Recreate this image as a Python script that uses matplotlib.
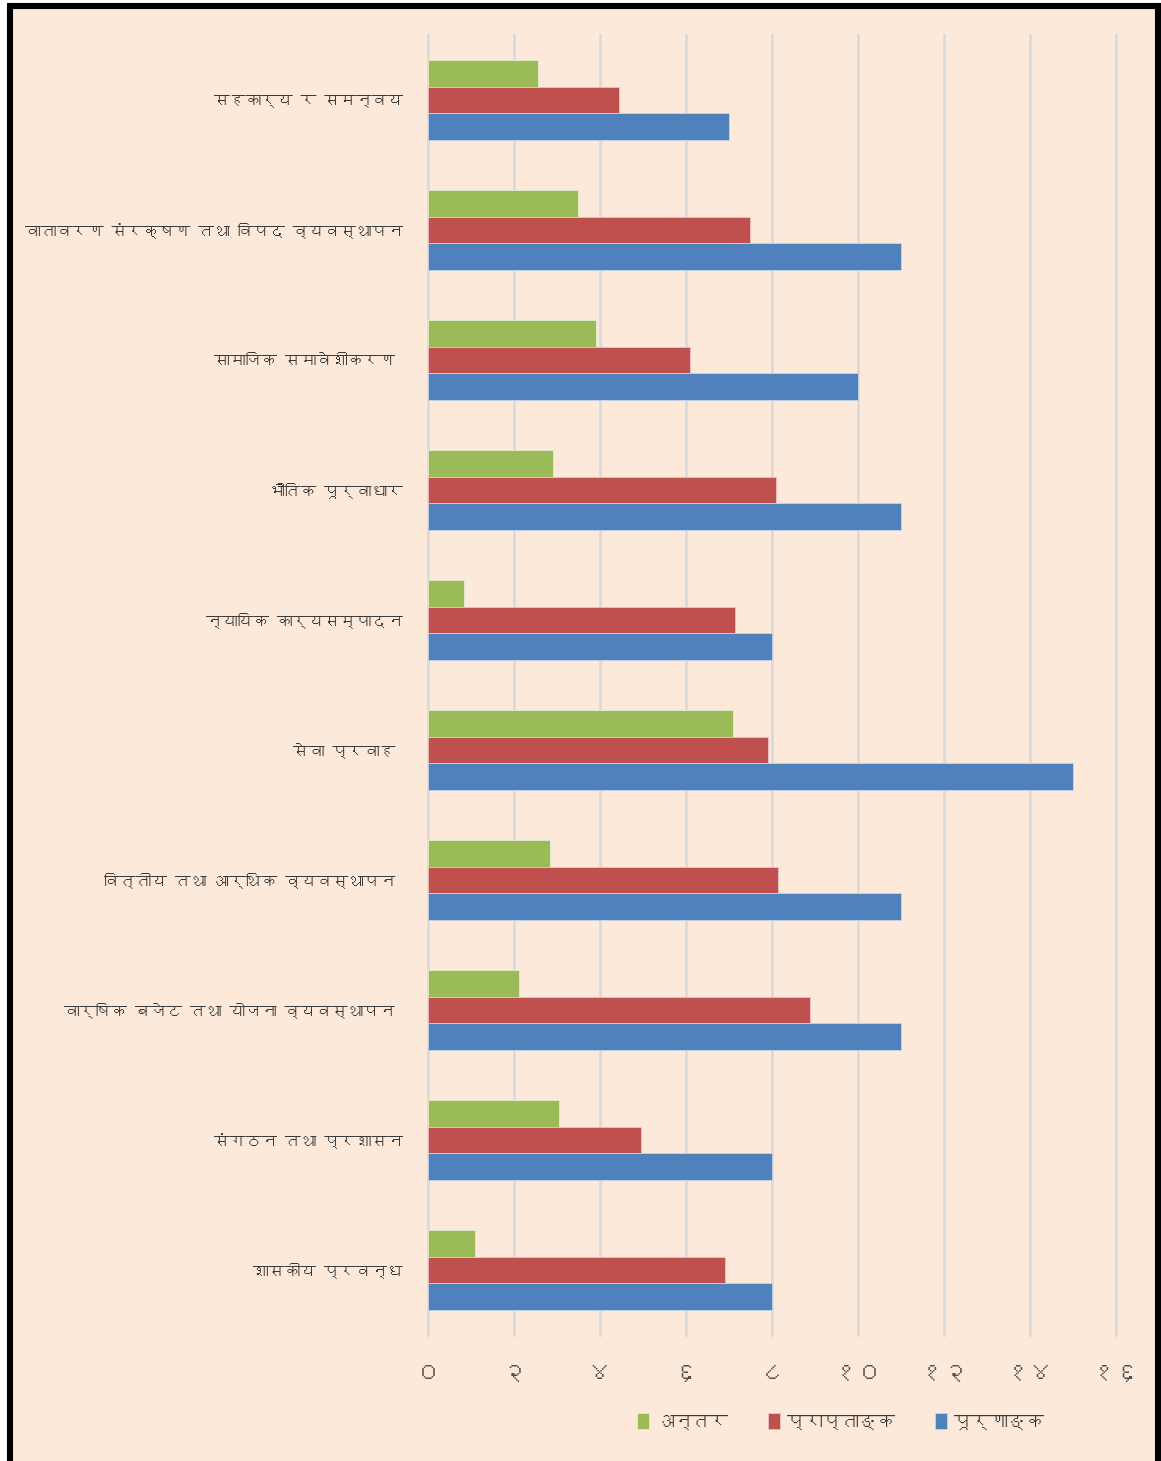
import numpy as np
import matplotlib
matplotlib.use('Agg')
import matplotlib.pyplot as plt
from matplotlib import font_manager
from matplotlib.ft2font import FT2Font
from matplotlib.patches import Rectangle

# data (top to bottom)
categories = ['सहकार्य र समन्वय',
              'वातावरण संरक्षण तथा विपद व्यवस्थापन',
              'सामाजिक समावेशीकरण ',
              'भौतिक पूर्वाधार',
              'न्यायिक कार्यसम्पादन',
              'सेवा प्रवाह ',
              'वित्तीय तथा आर्थिक व्यवस्थापन ',
              'वार्षिक बजेट तथा योजना व्यवस्थापन ',
              'संगठन तथा प्रशासन',
              'शासकीय प्रवन्ध']
full_marks = [7, 11, 10, 11, 8, 15, 11, 11, 8, 8]
obtained = [4.45, 7.5, 6.1, 8.1, 7.15, 7.9, 8.15, 8.88, 4.95, 6.9]
gap = [2.55, 3.5, 3.9, 2.9, 0.85, 7.1, 2.85, 2.12, 3.05, 1.1]
series_names = ['अन्तर', 'प्राप्ताङ्क', 'पूर्णाङ्क']
x_ticks = [0, 2, 4, 6, 8, 10, 12, 14, 16]
x_tick_labels = ['०', '२', '४', '६', '८', '१०', '१२', '१४', '१६']


# look for any installed font that has Devanagari glyphs
def find_devanagari():
    for f in font_manager.fontManager.ttflist:
        try:
            if 0x0915 in FT2Font(f.fname).get_charmap():
                return f.name
        except Exception:
            pass
    return None


dev_font = find_devanagari()
families = [dev_font, 'DejaVu Sans'] if dev_font else ['DejaVu Sans']
plt.rcParams['font.family'] = families

txt_color = '#3a3a3a'
bg = '#FDE9D9'

fig = plt.figure(figsize=(11.61, 14.61), dpi=100, facecolor='white')

# peach panel with thick black frame (drawn behind the axes)
frame = Rectangle((0.0086, -0.02), 0.9888, 1.0159, transform=fig.transFigure,
                  facecolor=bg, edgecolor='black', linewidth=4.4, zorder=-5)
fig.patches.append(frame)

ax = fig.add_axes([0.3686, 0.0862, 0.5926, 0.8898])
ax.set_facecolor('none')
ax.set_zorder(2)

y = np.arange(len(categories))
h = 0.205
ax.barh(y - h, gap, height=h, color='#9BBB59', edgecolor='#E3EDD0', linewidth=0.6,
        label=series_names[0], zorder=3)
ax.barh(y, obtained, height=h, color='#C0504D', edgecolor='#EBC3C2', linewidth=0.6,
        label=series_names[1], zorder=3)
ax.barh(y + h, full_marks, height=h, color='#4F81BD', edgecolor='#C5D5EA', linewidth=0.6,
        label=series_names[2], zorder=3)

ax.set_ylim(len(categories) - 0.5, -0.5)
ax.set_xlim(0, 16)
ax.set_yticks(y)
ax.set_yticklabels(categories, fontsize=11.3, color=txt_color, fontweight='bold')
ax.set_xticks(x_ticks)
ax.set_xticklabels(x_tick_labels, fontsize=18, color='#505050')
ax.tick_params(axis='both', length=0)
ax.tick_params(axis='x', pad=20)
ax.tick_params(axis='y', pad=18)

ax.grid(axis='x', color='#D9D9D9', linewidth=1.8, zorder=0)
ax.set_axisbelow(True)
# keep the edge gridlines (0 and 16) at full width
for gl in ax.get_xgridlines():
    gl.set_clip_on(False)
for s in ax.spines.values():
    s.set_visible(False)

leg = fig.legend(loc='center', bbox_to_anchor=(0.724, 0.027), ncol=3, frameon=False,
                 fontsize=13, handlelength=0.65, handleheight=0.95, handletextpad=0.4,
                 columnspacing=2.2, labelcolor=txt_color)

fig.savefig('out.png', dpi=100, facecolor='white')
